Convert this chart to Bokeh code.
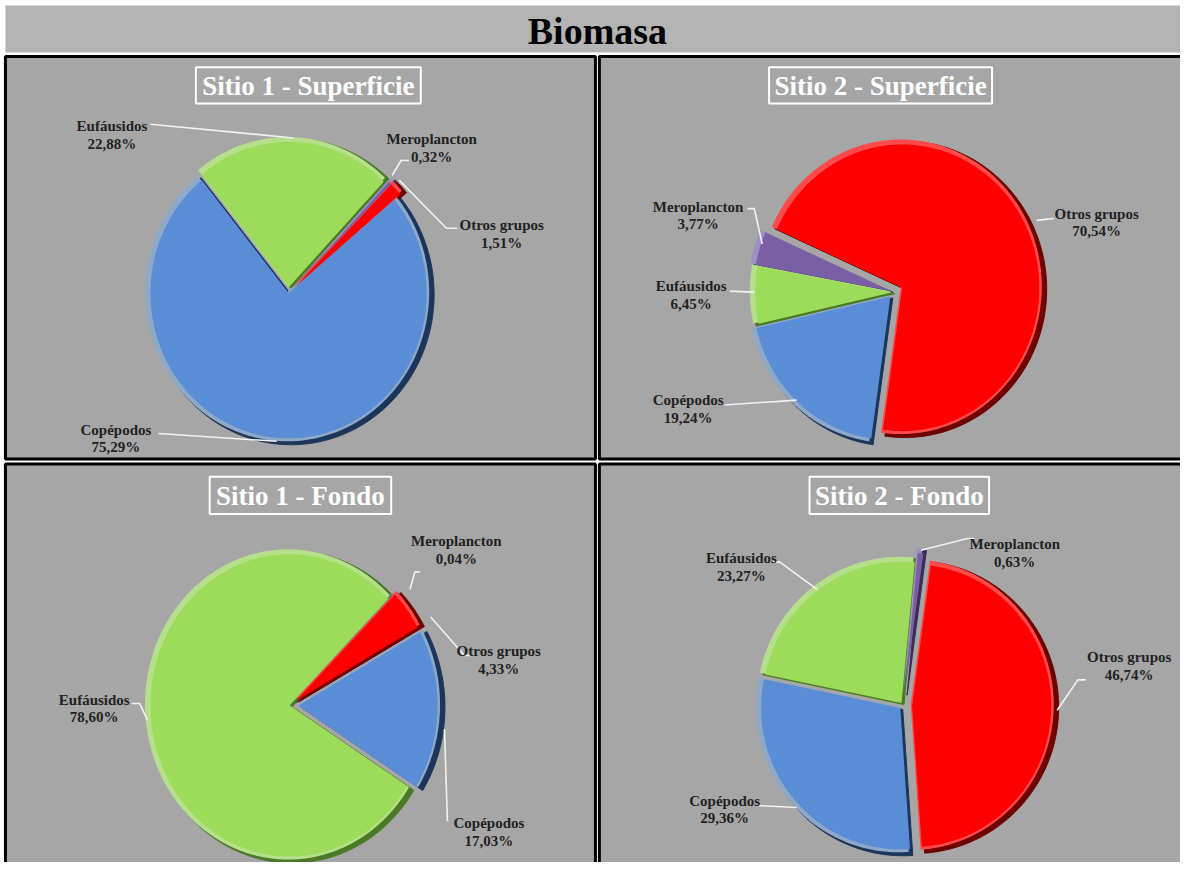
import numpy as np
from bokeh.plotting import figure
from bokeh.models import Range1d
from bokeh.embed import file_html
from bokeh.resources import INLINE
from bokeh.core.properties import value

# ---------------- data ----------------
main_title = "Biomasa"
categories = ["Copépodos", "Eufáusidos", "Meroplancton", "Otros grupos"]
sitio1_superficie = [75.29, 22.88, 0.32, 1.51]
sitio2_superficie = [19.24, 6.45, 3.77, 70.54]
sitio1_fondo = [17.03, 78.60, 0.04, 4.33]
sitio2_fondo = [29.36, 23.27, 0.63, 46.74]
panel_titles = ["Sitio 1 - Superficie", "Sitio 2 - Superficie", "Sitio 1 - Fondo", "Sitio 2 - Fondo"]

# ---------------- styles ----------------
main_col = ["#5a8dd5", "#9cdc5a", "#7b5fa4", "#ff0000"]
dark_col = ["#1c355a", "#4a7a26", "#3b2c55", "#6e0000"]
light_col = ["#8ea8c8", "#b6df8c", "#a08fc2", "#ff4a4a"]
PANEL_BG = "#a6a6a6"
SERIF = value("Liberation Serif")

panels = [
    dict(values=sitio1_superficie, title=panel_titles[0], cx=292, cy=298, rx=144, ry=152, start=50,
         explode=[0, 6, 8, 8], box=(198, 426, 68, 105),
         labels=[(117, 437), (113, 128), (437, 141), (508, 229)],
         leaders=[[(160, 441), (280, 449)], [(152, 126), (297, 140)],
                  [(414, 163), (406, 163), (397, 178)], [(404, 183), (452, 232), (463, 232)]]),
    dict(values=sitio2_superficie, title=panel_titles[1], cx=906, cy=297, rx=143, ry=150, start=188,
         explode=[6, 2, 4, 9], box=(779, 1005, 68, 105),
         labels=[(697, 407), (700, 291), (707, 210), (1111, 217)],
         leaders=[[(734, 412), (807, 407)], [(739, 296), (764, 297)],
                  [(757, 212), (764, 212), (772, 248)], [(1050, 224), (1068, 222)]]),
    dict(values=sitio1_fondo, title=panel_titles[2], cx=293, cy=718, rx=145, ry=158, start=61,
         explode=[9, 0, 6, 8], box=(212, 396, 485, 523),
         labels=[(495, 838), (95, 712), (462, 551), (505, 663)],
         leaders=[[(450, 742), (453, 836)], [(133, 716), (141, 716), (149, 733)],
                  [(425, 582), (420, 582), (415, 600)], [(436, 628), (470, 667), (477, 667)]]),
    dict(values=sitio2_fondo, title=panel_titles[3], cx=915, cy=718, rx=145, ry=148, start=176,
         explode=[4, 3, 12, 9], box=(820, 1002, 485, 523),
         labels=[(734, 815), (751, 568), (1028, 554), (1144, 669)],
         leaders=[[(768, 820), (807, 822)], [(783, 572), (790, 572), (828, 600)],
                  [(933, 560), (980, 548), (987, 548)], [(1100, 692), (1092, 692), (1071, 723)]]),
]
panel_rects = [(5, 603, 57, 467), (607, 1200, 57, 467), (5, 603, 472, 885), (607, 1200, 472, 885)]

# ---------------- figure ----------------
p = figure(width=1180, height=862, x_range=Range1d(0, 1196), y_range=Range1d(878, 0),
           output_backend="svg", toolbar_location=None, min_border=0,
           x_axis_type=None, y_axis_type=None)
p.grid.visible = False
p.outline_line_color = None
p.background_fill_color = "white"
p.border_fill_color = "white"

# title bar
p.quad(left=[5], right=[1200], top=[5], bottom=[53], fill_color="#b4b4b4", line_color=None)
p.text(x=[605], y=[31], text=[main_title], text_font=SERIF, text_font_style="bold",
       text_font_size="38px", text_color="black", text_align="center", text_baseline="middle")

# panels
p.quad(left=[r[0] for r in panel_rects], right=[r[1] for r in panel_rects],
       top=[r[2] for r in panel_rects], bottom=[r[3] for r in panel_rects],
       fill_color=PANEL_BG, line_color="black", line_width=3)


def slice_poly(cx, cy, rx, ry, a0, a1, n=90):
    th = np.radians(np.linspace(a0, a1, max(4, int(n * (a1 - a0) / 90) + 4)))
    xs = np.concatenate([[cx], cx + rx * np.sin(th)])
    ys = np.concatenate([[cy], cy - ry * np.cos(th)])
    return list(xs), list(ys)


for pn in panels:
    vals = np.array(pn["values"], dtype=float)
    spans = vals / vals.sum() * 360.0
    edges = pn["start"] + np.concatenate([[0], np.cumsum(spans)])
    dark_x, dark_y, dark_c = [], [], []
    light_x, light_y, light_c = [], [], []
    main_x, main_y, main_c = [], [], []
    for i in range(len(vals)):
        a0, a1 = edges[i], edges[i + 1]
        mid = np.radians((a0 + a1) / 2)
        e = pn["explode"][i]
        cx = pn["cx"] + e * np.sin(mid)
        cy = pn["cy"] - e * np.cos(mid)
        xs, ys = slice_poly(cx + 2.5, cy + 1.5, pn["rx"] + 1, pn["ry"] + 1, a0, a1)
        dark_x.append(xs); dark_y.append(ys); dark_c.append(dark_col[i])
        xs, ys = slice_poly(cx - 1.5, cy - 1, pn["rx"], pn["ry"], a0, a1)
        light_x.append(xs); light_y.append(ys); light_c.append(light_col[i])
        xs, ys = slice_poly(cx, cy, pn["rx"] - 4, pn["ry"] - 4, a0, a1)
        main_x.append(xs); main_y.append(ys); main_c.append(main_col[i])
    p.patches(dark_x, dark_y, fill_color=dark_c, line_color=dark_c, line_width=1)
    p.patches(light_x, light_y, fill_color=light_c, line_color=None)
    p.patches(main_x, main_y, fill_color=main_c, line_color=None)

    # leader lines
    p.multi_line(xs=[[pt[0] for pt in L] for L in pn["leaders"]],
                 ys=[[pt[1] for pt in L] for L in pn["leaders"]],
                 line_color="#f2f2f2", line_width=1.6)

    # labels
    names = categories
    pct = [f"{v:.2f}".replace(".", ",") + "%" for v in pn["values"]]
    lx = [l[0] for l in pn["labels"]]
    ly = [l[1] for l in pn["labels"]]
    p.text(x=lx, y=ly, text=names, text_font=SERIF, text_font_style="bold",
           text_font_size="15px", text_color="#222222", text_align="center", text_baseline="middle")
    p.text(x=lx, y=[y + 18 for y in ly], text=pct, text_font=SERIF, text_font_style="bold",
           text_font_size="15px", text_color="#222222", text_align="center", text_baseline="middle")

    # panel title with white box
    b = pn["box"]
    p.quad(left=[b[0]], right=[b[1]], top=[b[2]], bottom=[b[3]],
           fill_color=None, line_color="white", line_width=2)
    p.text(x=[(b[0] + b[1]) / 2], y=[(b[2] + b[3]) / 2 + 1], text=[pn["title"]], text_font=SERIF,
           text_font_style="bold", text_font_size="27px", text_color="white",
           text_align="center", text_baseline="middle")

open("out.html", "w").write(file_html(p, INLINE))
